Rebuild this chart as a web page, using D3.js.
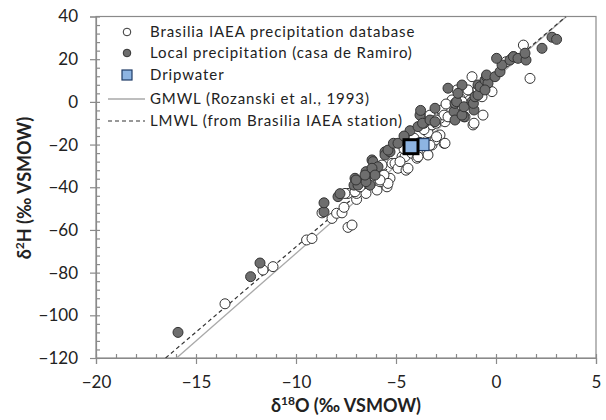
<!DOCTYPE html>
<html>
<head>
<meta charset="utf-8">
<script src="https://cdn.jsdelivr.net/npm/d3@7"></script>
<style>
body { margin: 0; background: #fff; }
svg { font-family: Lato, "Open Sans", sans-serif; }
</style>
</head>
<body>
<svg width="606" height="420"></svg>
<script>
// Brasilia IAEA precipitation (open circles)
const iaea = [[-13.55,-94.6],[-11.65,-78.8],[-11.15,-77.2],[-9.47,-64.7],[-9.2,-64],[-8.7,-52],[-8.2,-54.6],[-7.97,-52.2],[-7.7,-52],[-7.6,-49.4],
  [-7.4,-58.8],[-7.2,-57.7],[-7.4,-42.9],[-6.97,-45.7],[-6.97,-42.9],[-7.55,-42.9],[-7.05,-42.1],[-6.5,-42.9],[-5.95,-41.3],[-5.45,-39.8],
  [-5.3,-35.8],[-5.6,-34.3],[-5.8,-37.4],[-6.8,-39.8],[-5.4,-38.2],[-5.8,-36.6],[-6.1,-33.5],[-5.7,-29.6],[-5.2,-28.8],[-5.05,-28.8],
  [-4.9,-31.1],[-4.5,-32],[-4.7,-25.7],[-4.55,-25.7],[-4.8,-28],[-4.2,-24.1],[-3.95,-26.4],[-3.45,-24.1],[-3.4,-24.9],[-3.2,-20.2],
  [-2.6,-19.4],[-2.8,-15.5],[-3.05,-17.9],[-3.4,-14.4],[-3.2,-10.8],[-3.0,-10],[-2.55,-9.3],[-2.8,-7.7],[-3.15,-6.2],[-3.3,-6.2],
  [-2.7,-3.8],[-1.55,-7],[-1.15,-10.8],[-0.65,-6.2],[-2.2,0.9],[-1.8,1.7],[-1.3,0.9],[-1.95,5.6],[-1.4,5.6],[-0.7,2.4],
  [-0.2,4.8],[-1.2,11.8],[0.5,18.8],[0.87,21.2],[1.37,26.6],[1.7,11],[-2.5,-1],[-0.9,6],[-3.6,-13],[-4.1,-17],
  [-3.3,-20.3],[-2.97,-16.3],[-2.55,-19.4],[-4.4,-31.1],[-3.9,-25.7],[-2.6,-6.2],[-2.4,-7],[-3.0,-8.5],[-2.05,-3],[-1.7,0.1],
  [-1.1,-10],[-4.6,-22],[-3.8,-19]]
// local precipitation, casa de Ramiro (grey circles)
const local = [[-15.9,-108],[-12.27,-81.9],[-11.8,-75.5],[-8.6,-51.5],[-8.6,-47.3],[-7.9,-44.4],[-7.8,-43],[-7.05,-35.8],[-7.1,-39],[-6.9,-39],
  [-6.5,-32.7],[-6.1,-32.7],[-6.5,-35.8],[-6.3,-39],[-6.2,-27.2],[-6.15,-28],[-5.9,-30.4],[-6.2,-31.1],[-6.05,-34.3],[-6.5,-37.4],
  [-6.55,-34.3],[-7.0,-36.6],[-5.55,-23.4],[-5.55,-24.9],[-5.3,-23.4],[-5.4,-22.6],[-5.13,-19.4],[-4.9,-19.4],[-4.3,-13.5],[-4.6,-16],
  [-3.9,-11.6],[-3.6,-10],[-3.8,-6.2],[-3.77,-4],[-3.67,-10],[-3.3,-8.5],[-3.05,-3],[-3.05,-9.3],[-2.1,-4.6],[-2.05,-8.5],
  [-1.6,-7],[-1.7,-6.2],[-2.05,-0.7],[-1.97,0.1],[-1.6,-2.3],[-1.1,-3.8],[-1.2,0.1],[-1.13,-0.7],[-1.05,2.4],[-0.9,3.2],
  [-2.4,6.4],[-1.7,7.9],[-1.9,4],[-0.9,7.9],[-0.8,7.1],[-0.55,10.2],[-0.47,11.8],[-0.4,8.7],[-0.47,12.6],[-0.55,5.6],
  [-0.05,11.8],[0.2,14.1],[0.3,17.3],[0.03,20.4],[0.7,19.6],[0.87,21.2],[1.1,20.4],[1.5,19.6],[1.45,22.8],[2.3,25.1],
  [2.8,30.3],[3.03,29.3]]
const drip = [[-4.25,-21],[-3.65,-20]]
// meteoric water lines, ends read where they leave the plot
const gmwl = [[-15.97,-120],[3.52,40]]
const lmwl = [[-16.52,-120],[3.5,40]]

const xTicks = [-20,-15,-10,-5,0,5]
const yTicks = [-120,-100,-80,-60,-40,-20,0,20,40]
const legendNames = ["Brasilia IAEA precipitation database","Local precipitation (casa de Ramiro)","Dripwater","GMWL (Rozanski et al., 1993)","LMWL (from Brasilia IAEA station)"]

const svg = d3.select("svg")
const x = d3.scaleLinear().domain([-20,5]).range([96,596])
const y = d3.scaleLinear().domain([-120,40]).range([358,16.5])
const axisCol = "#8a8a8a"

svg.append("clipPath").attr("id","clip").append("rect")
  .attr("x",96).attr("y",16.5).attr("width",500).attr("height",341.5)

// frame
svg.append("rect").attr("x",96).attr("y",16.5).attr("width",500).attr("height",341.5)
  .attr("fill","none").attr("stroke",axisCol).attr("stroke-width",1.2)

// minor ticks inside, major ticks outside
const xAxisMinor = d3.axisBottom(x).tickValues(d3.range(-20,6,1)).tickSize(-4).tickFormat("")
const yAxisMinor = d3.axisLeft(y).tickValues(d3.range(-120,41,4)).tickSize(-4).tickFormat("")
const xAxis = d3.axisBottom(x).tickValues(xTicks).tickSize(6).tickPadding(10).tickFormat(d3.format("d"))
const yAxis = d3.axisLeft(y).tickValues(yTicks).tickSize(6).tickPadding(12).tickFormat(d3.format("d"))

const gxm = svg.append("g").attr("transform","translate(0,358)").call(xAxisMinor)
const gym = svg.append("g").attr("transform","translate(96,0)").call(yAxisMinor)
const gx = svg.append("g").attr("transform","translate(0,358)").call(xAxis)
const gy = svg.append("g").attr("transform","translate(96,0)").call(yAxis)
;[gxm,gym,gx,gy].forEach(g => {
  g.selectAll("path,line").attr("stroke",axisCol).attr("stroke-width",1.2)
  g.selectAll("text").attr("fill","#222").style("font-size","17px").style("font-family","Lato, sans-serif")
})
gx.selectAll("text").attr("dy","0.85em")
gym.select(".domain").remove(); gxm.select(".domain").remove()

// lines
const line = d3.line().x(d => x(d[0])).y(d => y(d[1]))
const plot = svg.append("g").attr("clip-path","url(#clip)")
plot.append("path").attr("d", line(gmwl)).attr("fill","none").attr("stroke","#a9a9a9").attr("stroke-width",1.3)
plot.append("path").attr("d", line(lmwl)).attr("fill","none").attr("stroke","#333").attr("stroke-width",1.2).attr("stroke-dasharray","4,3")

plot.selectAll(".iaea").data(iaea).enter().append("circle")
  .attr("cx", d => x(d[0])).attr("cy", d => y(d[1])).attr("r",5)
  .attr("fill","#fff").attr("stroke","#333").attr("stroke-width",1)
plot.selectAll(".local").data(local).enter().append("circle")
  .attr("cx", d => x(d[0])).attr("cy", d => y(d[1])).attr("r",5)
  .attr("fill","#6e6e6e").attr("stroke","#333").attr("stroke-width",1)

// dripwater, second one drawn under the first
plot.append("rect").attr("x", x(drip[1][0])-6).attr("y", y(drip[1][1])-6).attr("width",12).attr("height",12)
  .attr("fill","#8db4e2").attr("stroke","#1f3b66").attr("stroke-width",1.2)
plot.append("rect").attr("x", x(drip[0][0])-7).attr("y", y(drip[0][1])-7).attr("width",14).attr("height",14)
  .attr("fill","#8db4e2").attr("stroke","#000").attr("stroke-width",3)

// legend
const leg = svg.append("g")
const ly = [32,53,75,99,121]
leg.append("circle").attr("cx",127).attr("cy",ly[0]).attr("r",3.8).attr("fill","#fff").attr("stroke","#333")
leg.append("circle").attr("cx",127).attr("cy",ly[1]).attr("r",3.8).attr("fill","#6e6e6e").attr("stroke","#333")
leg.append("rect").attr("x",122).attr("y",ly[2]-5).attr("width",10).attr("height",10).attr("fill","#8db4e2").attr("stroke","#1f3b66").attr("stroke-width",1.2)
leg.append("line").attr("x1",108).attr("x2",145).attr("y1",ly[3]).attr("y2",ly[3]).attr("stroke","#a9a9a9").attr("stroke-width",1.3)
leg.append("line").attr("x1",108).attr("x2",145).attr("y1",ly[4]).attr("y2",ly[4]).attr("stroke","#333").attr("stroke-width",1.2).attr("stroke-dasharray","4,3")
leg.selectAll("text").data(legendNames).enter().append("text")
  .attr("x",150).attr("y",(d,i) => ly[i]).attr("dy","0.35em")
  .style("font-size","15px").style("letter-spacing","0.9px").attr("fill","#222").text(d => d)

// axis titles
const xt = svg.append("text").attr("x",346).attr("y",412).attr("text-anchor","middle")
  .style("font-size","18px").style("font-weight","bold").attr("fill","#222")
xt.append("tspan").text("δ")
xt.append("tspan").attr("dy",-7).style("font-size","12px").text("18")
xt.append("tspan").attr("dy",7).text("O (‰ VSMOW)")

const yt = svg.append("text").attr("transform","translate(31,188) rotate(-90)").attr("text-anchor","middle")
  .style("font-size","18px").style("font-weight","bold").attr("fill","#222")
yt.append("tspan").text("δ")
yt.append("tspan").attr("dy",-7).style("font-size","12px").text("2")
yt.append("tspan").attr("dy",7).text("H (‰ VSMOW)")
</script>
</body>
</html>
